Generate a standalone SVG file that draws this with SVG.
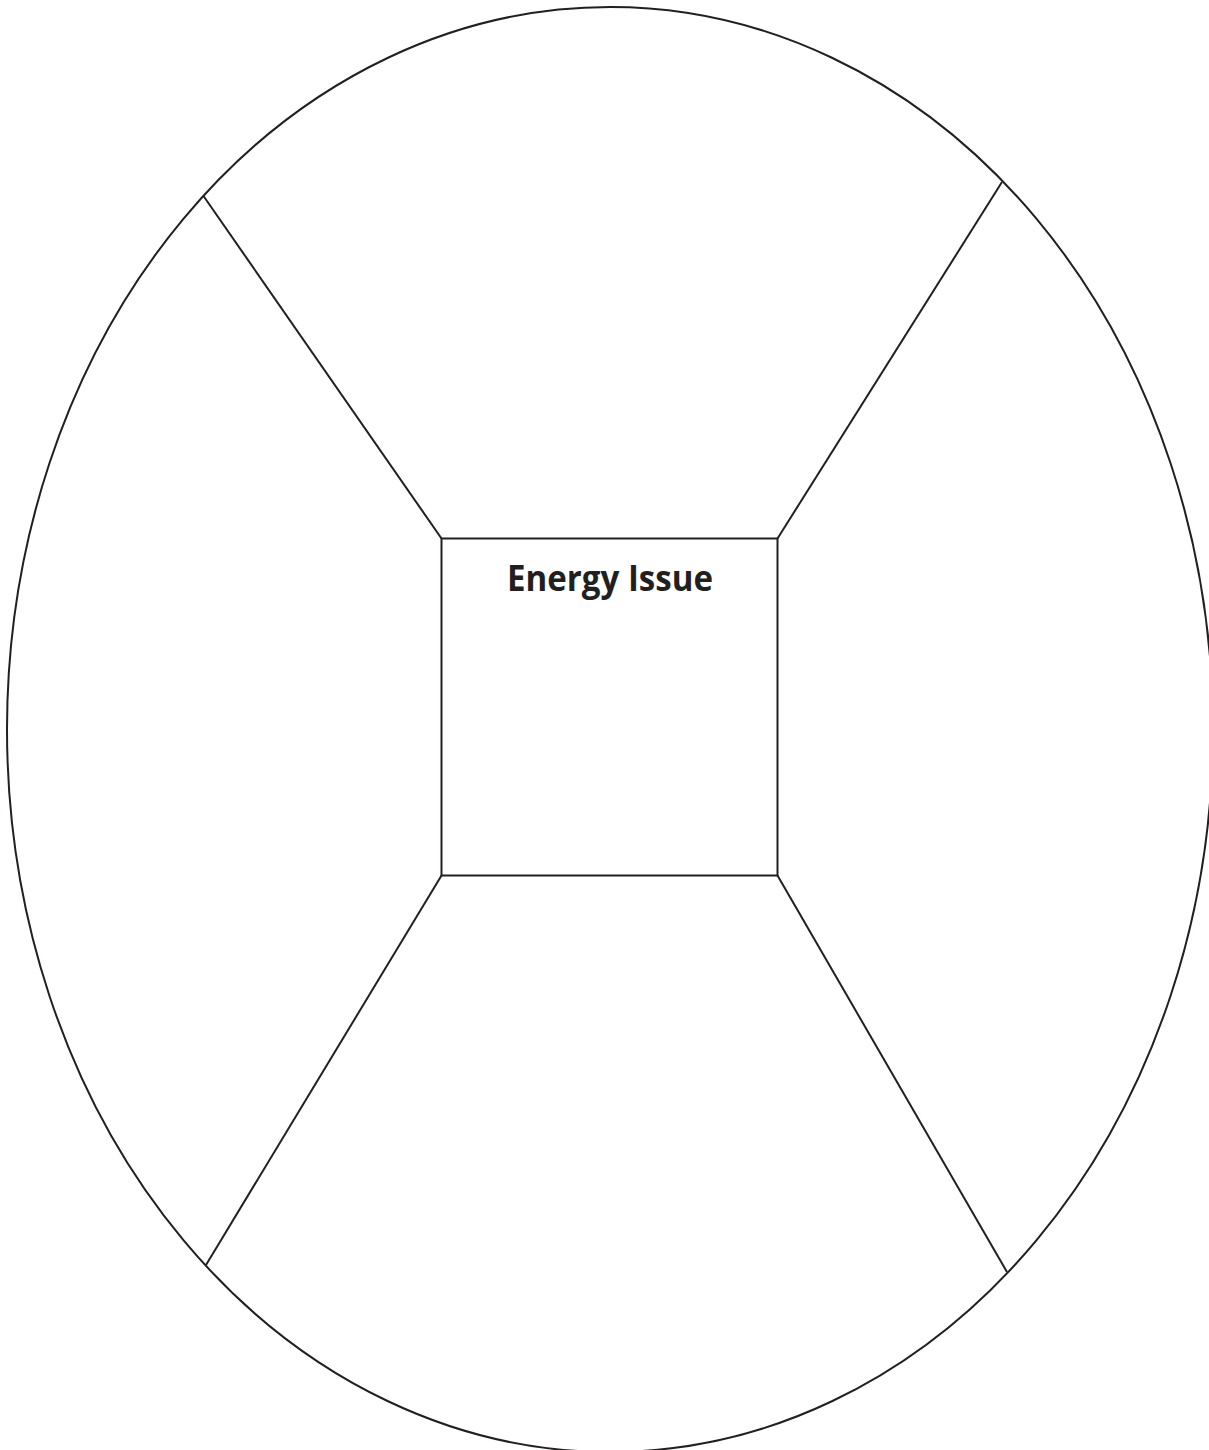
<svg xmlns="http://www.w3.org/2000/svg" width="1209" height="1450" viewBox="0 0 1209 1450">
<style>
.ln{fill:none;stroke:#231f20;stroke-width:2}
.lbl{font-family:"Open Sans","Liberation Sans",sans-serif;font-weight:bold;font-size:35px;fill:#231f20}
</style>
<rect width="1209" height="1450" fill="#fff"/>
<g id="outer"><ellipse class="ln" cx="610" cy="729.5" rx="603" ry="722.5"/></g>
<g id="connectors">
<line class="ln" x1="441.5" y1="538.5" x2="203.5" y2="196"/>
<line class="ln" x1="777.5" y1="538.5" x2="1002" y2="182"/>
<line class="ln" x1="441.5" y1="875.5" x2="206" y2="1265"/>
<line class="ln" x1="777.5" y1="875.5" x2="1007" y2="1272"/>
</g>
<g id="center">
<rect class="ln" x="441.5" y="538.5" width="336" height="337"/>
<text class="lbl" x="507" y="591" textLength="206" lengthAdjust="spacingAndGlyphs">Energy Issue</text>
</g>
</svg>
